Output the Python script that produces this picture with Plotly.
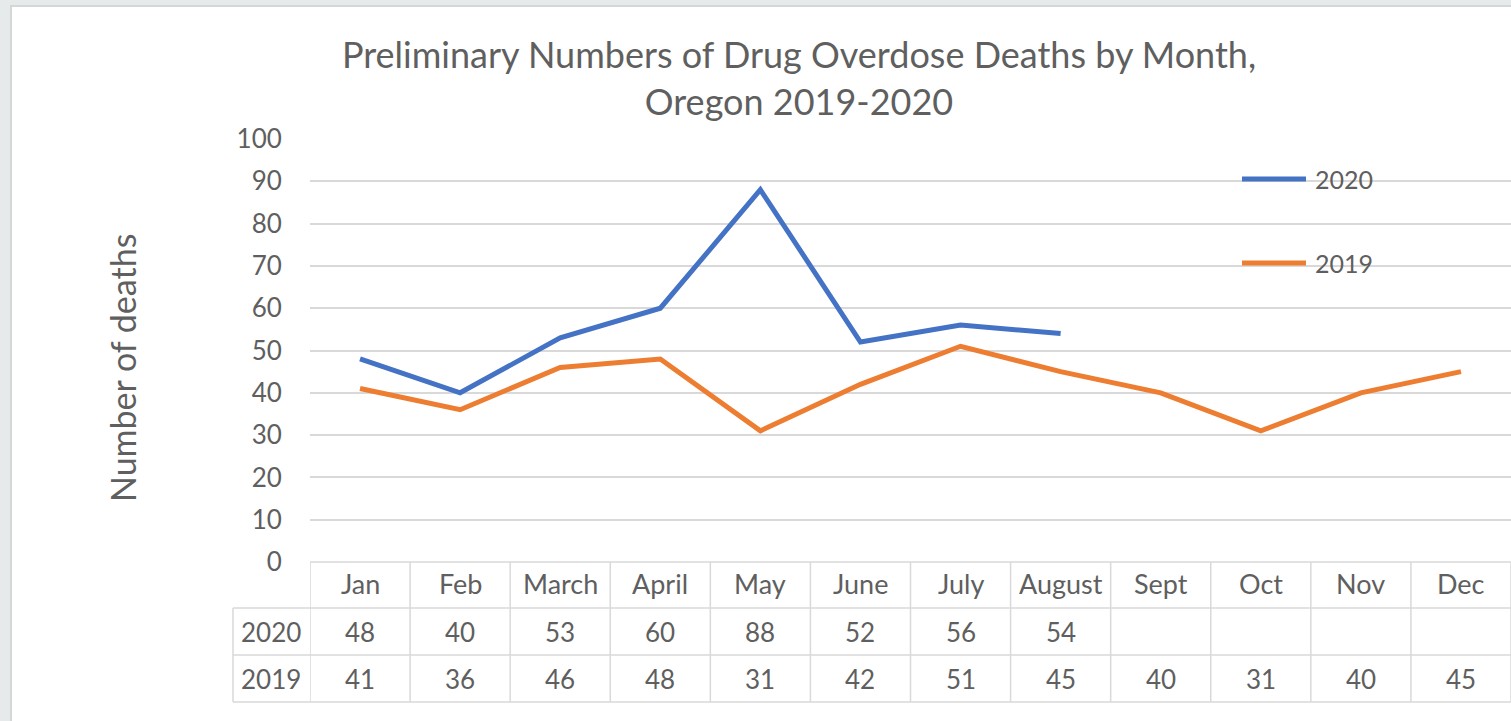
import plotly.graph_objects as go

months = ["Jan", "Feb", "March", "April", "May", "June", "July", "August", "Sept", "Oct", "Nov", "Dec"]
deaths_2020 = [48, 40, 53, 60, 88, 52, 56, 54, None, None, None, None]
deaths_2019 = [41, 36, 46, 48, 31, 42, 51, 45, 40, 31, 40, 45]
y_ticks = [0, 10, 20, 30, 40, 50, 60, 70, 80, 90, 100]

W, H = 1511, 721
L, R, T, B = 310, 0, 139, 159
PW = W - L - R
PH = H - T - B

def px_x(px):
    return (px - L) / PW

def px_y(py):
    return (H - B - py) / PH

FONT = "Lato"
TXT = "#5f5f5f"
GRID = "#d9d9d9"
BLUE = "#4472C4"
ORANGE = "#ED7D31"

xs = list(range(len(months)))

fig = go.Figure()
fig.add_trace(go.Scatter(x=xs, y=deaths_2020, mode="lines", name="2020",
                         line=dict(color=BLUE, width=5), connectgaps=False))
fig.add_trace(go.Scatter(x=xs, y=deaths_2019, mode="lines", name="2019",
                         line=dict(color=ORANGE, width=5)))

shapes = []
# page background frame and white panel
shapes.append(dict(type="rect", xref="paper", yref="paper",
                   x0=px_x(11), x1=px_x(W + 20), y0=px_y(H + 20), y1=px_y(6),
                   fillcolor="white", line=dict(color="#d3d8d7", width=2), layer="below"))

# table geometry (row boundaries in pixels converted to paper)
row_bounds = [562, 608, 655, 702]
label_left = px_x(233)

shapes.append(dict(type="line", xref="x", yref="paper", x0=-0.5, x1=len(months) - 0.5,
                   y0=px_y(row_bounds[0]), y1=px_y(row_bounds[0]), line=dict(color=GRID, width=1.5)))
for rb in row_bounds[1:]:
    shapes.append(dict(type="line", xref="paper", yref="paper", x0=label_left, x1=1.0,
                       y0=px_y(rb), y1=px_y(rb), line=dict(color=GRID, width=1.5)))
for k in range(len(months) + 1):
    shapes.append(dict(type="line", xref="x", yref="paper", x0=k - 0.5, x1=k - 0.5,
                       y0=px_y(row_bounds[0]), y1=px_y(row_bounds[-1]),
                       line=dict(color=GRID, width=1.5)))
shapes.append(dict(type="line", xref="paper", yref="paper", x0=label_left, x1=label_left,
                   y0=px_y(row_bounds[1]), y1=px_y(row_bounds[-1]), line=dict(color=GRID, width=1.5)))

# manual legend
leg = [("2020", BLUE, 179), ("2019", ORANGE, 263)]
annotations = []
for name, col, py in leg:
    shapes.append(dict(type="line", xref="paper", yref="paper", x0=px_x(1242), x1=px_x(1306),
                       y0=px_y(py), y1=px_y(py), line=dict(color=col, width=5)))
    annotations.append(dict(text=name, xref="paper", yref="paper", x=px_x(1313), y=px_y(py),
                            xanchor="left", yanchor="middle", showarrow=False,
                            font=dict(family=FONT, size=25, color=TXT)))

def mid(a, b):
    return px_y((a + b) / 2)

WORD = 27
NUM = 26
for i, m in enumerate(months):
    annotations.append(dict(text=m, xref="x", yref="paper", x=i, y=mid(row_bounds[0], row_bounds[1]) + 2 / PH,
                            xanchor="center", yanchor="middle",
                            showarrow=False, font=dict(family=FONT, size=WORD, color=TXT)))
    if deaths_2020[i] is not None:
        annotations.append(dict(text=str(deaths_2020[i]), xref="x", yref="paper", x=i,
                                y=mid(row_bounds[1], row_bounds[2]), xanchor="center", yanchor="middle",
                                showarrow=False, font=dict(family=FONT, size=NUM, color=TXT)))
    annotations.append(dict(text=str(deaths_2019[i]), xref="x", yref="paper", x=i,
                            y=mid(row_bounds[2], row_bounds[3]), xanchor="center", yanchor="middle",
                            showarrow=False, font=dict(family=FONT, size=NUM, color=TXT)))
for name, (a, b) in [("2020", (row_bounds[1], row_bounds[2])), ("2019", (row_bounds[2], row_bounds[3]))]:
    annotations.append(dict(text=name, xref="paper", yref="paper", x=px_x(271), y=mid(a, b),
                            xanchor="center", yanchor="middle",
                            showarrow=False, font=dict(family=FONT, size=NUM, color=TXT)))

annotations.append(dict(text="Number of deaths", xref="paper", yref="paper", x=px_x(122), y=px_y(368),
                        xanchor="center", yanchor="middle",
                        textangle=-90, showarrow=False, font=dict(family=FONT, size=34, color=TXT)))

fig.update_layout(
    width=W, height=H,
    margin=dict(l=L, r=R, t=T, b=B),
    paper_bgcolor="#e6eaea",
    plot_bgcolor="rgba(0,0,0,0)",
    showlegend=False,
    title=dict(text="Preliminary Numbers of Drug Overdose Deaths by Month,<br>Oregon 2019-2020",
               x=799 / W, xanchor="center", y=1 - 68 / H, yanchor="middle",
               font=dict(family=FONT, size=36, color=TXT)),
    xaxis=dict(range=[-0.5, len(months) - 0.5], showgrid=False, zeroline=False,
               showticklabels=False, showline=False, fixedrange=True),
    yaxis=dict(range=[0, 100], tickvals=y_ticks, showgrid=True, gridcolor=GRID, gridwidth=1.5,
               zeroline=False, showline=False, ticks="outside", ticklen=22,
               tickcolor="rgba(0,0,0,0)", tickfont=dict(family=FONT, size=26, color=TXT)),
    shapes=shapes,
    annotations=annotations,
)

fig.write_html("out.html", config={"displayModeBar": False},
               post_script="document.body.style.margin='0';document.body.style.overflow='hidden';")
